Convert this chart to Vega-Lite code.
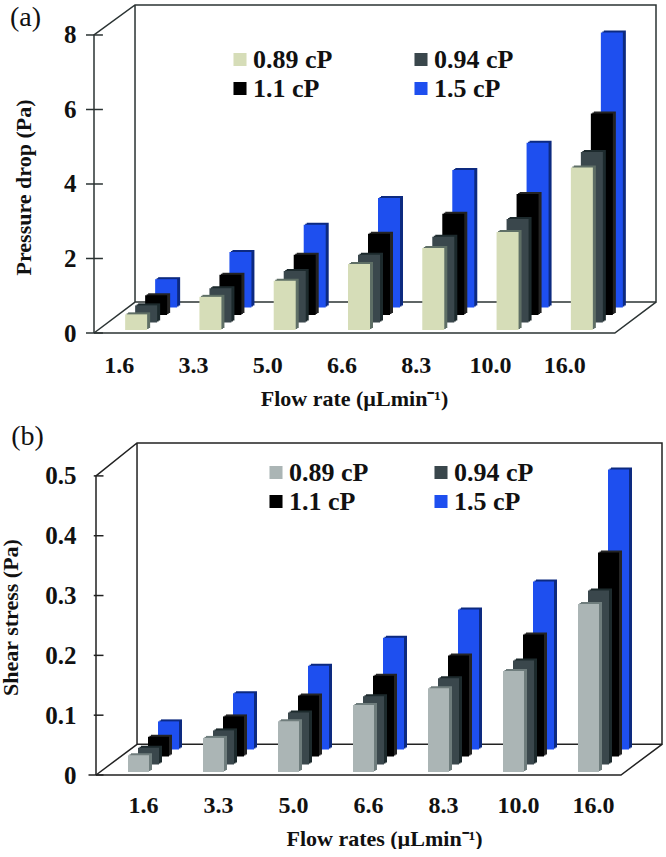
{"$schema":"https://vega.github.io/schema/vega-lite/v6.json","background":"white","padding":{"left":-1,"top":2,"right":0,"bottom":0},"spacing":14,"resolve":{"scale":{"color":"independent"},"legend":{"color":"independent"}},"config":{"view":{"stroke":null},"axis":{"labelFont":"Liberation Serif","titleFont":"Liberation Serif","labelFontWeight":"bold","titleFontWeight":"bold","labelColor":"#111","titleColor":"#111","grid":false,"domain":false,"ticks":false},"legend":{"labelFont":"Liberation Serif","labelFontWeight":"bold","labelFontSize":26,"labelColor":"#111","symbolType":"square","symbolSize":170,"symbolStrokeWidth":0,"symbolOpacity":1,"columns":2,"direction":"horizontal","rowPadding":3,"labelOffset":0,"title":null,"orient":"none"},"line":{"strokeWidth":1.5}},"datasets":{"pd":[{"rate":"1.6","s":"0.89 cP","v":0.42},{"rate":"3.3","s":"0.89 cP","v":0.89},{"rate":"5.0","s":"0.89 cP","v":1.32},{"rate":"6.6","s":"0.89 cP","v":1.77},{"rate":"8.3","s":"0.89 cP","v":2.2},{"rate":"10.0","s":"0.89 cP","v":2.63},{"rate":"16.0","s":"0.89 cP","v":4.36},{"rate":"1.6","s":"0.94 cP","v":0.46},{"rate":"3.3","s":"0.94 cP","v":0.92},{"rate":"5.0","s":"0.94 cP","v":1.38},{"rate":"6.6","s":"0.94 cP","v":1.82},{"rate":"8.3","s":"0.94 cP","v":2.3},{"rate":"10.0","s":"0.94 cP","v":2.78},{"rate":"16.0","s":"0.94 cP","v":4.58},{"rate":"1.6","s":"1.1 cP","v":0.53},{"rate":"3.3","s":"1.1 cP","v":1.08},{"rate":"5.0","s":"1.1 cP","v":1.62},{"rate":"6.6","s":"1.1 cP","v":2.18},{"rate":"8.3","s":"1.1 cP","v":2.72},{"rate":"10.0","s":"1.1 cP","v":3.25},{"rate":"16.0","s":"1.1 cP","v":5.41},{"rate":"1.6","s":"1.5 cP","v":0.76},{"rate":"3.3","s":"1.5 cP","v":1.49},{"rate":"5.0","s":"1.5 cP","v":2.22},{"rate":"6.6","s":"1.5 cP","v":2.94},{"rate":"8.3","s":"1.5 cP","v":3.69},{"rate":"10.0","s":"1.5 cP","v":4.42},{"rate":"16.0","s":"1.5 cP","v":7.38}],"ss":[{"rate":"1.6","s":"0.89 cP","v":0.028},{"rate":"3.3","s":"0.89 cP","v":0.057},{"rate":"5.0","s":"0.89 cP","v":0.085},{"rate":"6.6","s":"0.89 cP","v":0.112},{"rate":"8.3","s":"0.89 cP","v":0.14},{"rate":"10.0","s":"0.89 cP","v":0.169},{"rate":"16.0","s":"0.89 cP","v":0.281},{"rate":"1.6","s":"0.94 cP","v":0.028},{"rate":"3.3","s":"0.94 cP","v":0.057},{"rate":"5.0","s":"0.94 cP","v":0.087},{"rate":"6.6","s":"0.94 cP","v":0.114},{"rate":"8.3","s":"0.94 cP","v":0.144},{"rate":"10.0","s":"0.94 cP","v":0.174},{"rate":"16.0","s":"0.94 cP","v":0.291},{"rate":"1.6","s":"1.1 cP","v":0.033},{"rate":"3.3","s":"1.1 cP","v":0.067},{"rate":"5.0","s":"1.1 cP","v":0.102},{"rate":"6.6","s":"1.1 cP","v":0.135},{"rate":"8.3","s":"1.1 cP","v":0.169},{"rate":"10.0","s":"1.1 cP","v":0.204},{"rate":"16.0","s":"1.1 cP","v":0.341},{"rate":"1.6","s":"1.5 cP","v":0.047},{"rate":"3.3","s":"1.5 cP","v":0.094},{"rate":"5.0","s":"1.5 cP","v":0.14},{"rate":"6.6","s":"1.5 cP","v":0.187},{"rate":"8.3","s":"1.5 cP","v":0.234},{"rate":"10.0","s":"1.5 cP","v":0.281},{"rate":"16.0","s":"1.5 cP","v":0.468}]},"vconcat":[{"width":562,"height":328,"resolve":{"scale":{"x":"independent"}},"layer":[{"data":{"values":[{"seg":"l","x":0,"y":0,"o":1},{"seg":"l","x":0,"y":8,"o":2},{"seg":"l","x":0.552,"y":8.805,"o":3},{"seg":"l","x":7.564,"y":8.805,"o":4},{"seg":"l","x":7.564,"y":0.83,"o":5},{"seg":"l","x":0.552,"y":0.83,"o":6},{"seg":"l","x":0.552,"y":8.805,"o":7},{"seg":"d","x":0,"y":0,"o":1},{"seg":"d","x":0.552,"y":0.83,"o":2},{"seg":"t0","x":-0.108,"y":0,"o":1},{"seg":"t0","x":0.12,"y":0,"o":2},{"seg":"t2","x":-0.108,"y":2,"o":1},{"seg":"t2","x":0.12,"y":2,"o":2},{"seg":"t4","x":-0.108,"y":4,"o":1},{"seg":"t4","x":0.12,"y":4,"o":2},{"seg":"t6","x":-0.108,"y":6,"o":1},{"seg":"t6","x":0.12,"y":6,"o":2},{"seg":"t8","x":-0.108,"y":8,"o":1},{"seg":"t8","x":0.12,"y":8,"o":2},{"seg":"f","x":0,"y":0,"o":1},{"seg":"f","x":7.01,"y":0,"o":2},{"seg":"f","x":7.564,"y":0.83,"o":3}]},"mark":{"type":"line","color":"#2b3333","clip":false},"encoding":{"x":{"field":"x","type":"quantitative","axis":null,"scale":{"domain":[0,7.564],"range":[0,562],"nice":false,"zero":false}},"y":{"field":"y","type":"quantitative","scale":{"domain":[0,8.805],"nice":false},"axis":{"values":[0,2,4,6,8],"labelFontSize":25,"labelPadding":18,"title":"Pressure drop (Pa)","titleFontSize":22,"titleX":-59,"titleY":182}},"detail":{"field":"seg"},"order":{"field":"o"}}},{"data":{"values":[{"t":"(a)","x":-1.13,"y":8.45}]},"mark":{"type":"text","font":"Liberation Serif","fontSize":28,"align":"left","color":"#111"},"encoding":{"x":{"field":"x","type":"quantitative","axis":null,"scale":{"domain":[0,7.564],"range":[0,562],"nice":false,"zero":false}},"y":{"field":"y","type":"quantitative"},"text":{"field":"t"}}},{"data":{"name":"pd"},"encoding":{"x":{"field":"rate","type":"nominal","title":"Flow rate (µLmin⁻¹)","scale":{"domain":["1.6","3.3","5.0","6.6","8.3","10.0","16.0"],"range":[0,520],"paddingInner":0,"paddingOuter":0},"axis":{"labelAngle":0,"labelFontSize":24,"labelPadding":20,"labelOffset":-12,"titleFontSize":22,"titleX":260,"titleY":55}},"y":{"field":"v","type":"quantitative"}},"layer":[{"transform":[{"filter":"datum.s=='1.5 cP'"}],"mark":{"type":"bar","width":22,"color":"#0d2a80","xOffset":38,"yOffset":-27.5}},{"transform":[{"filter":"datum.s=='1.5 cP'"}],"mark":{"type":"bar","width":22,"color":"#0d2a80","xOffset":36.5,"yOffset":-26.5}},{"transform":[{"filter":"datum.s=='1.5 cP'"}],"mark":{"type":"bar","width":22,"xOffset":35,"yOffset":-25.5},"encoding":{"color":{"field":"s","type":"nominal","scale":{"domain":["0.89 cP","0.94 cP","1.1 cP","1.5 cP"],"range":["#d6ddb8","#3a474c","#000000","#1e4fef"]},"legend":{"legendX":133,"legendY":41.5,"columnPadding":75}}}},{"transform":[{"filter":"datum.s=='1.1 cP'"}],"mark":{"type":"bar","width":22,"color":"#242424","xOffset":28,"yOffset":-20}},{"transform":[{"filter":"datum.s=='1.1 cP'"}],"mark":{"type":"bar","width":22,"color":"#242424","xOffset":26.5,"yOffset":-19}},{"transform":[{"filter":"datum.s=='1.1 cP'"}],"mark":{"type":"bar","width":22,"color":"#000000","xOffset":25,"yOffset":-18}},{"transform":[{"filter":"datum.s=='0.94 cP'"}],"mark":{"type":"bar","width":22,"color":"#1d2a2d","xOffset":18,"yOffset":-12.5}},{"transform":[{"filter":"datum.s=='0.94 cP'"}],"mark":{"type":"bar","width":22,"color":"#1d2a2d","xOffset":16.5,"yOffset":-11.5}},{"transform":[{"filter":"datum.s=='0.94 cP'"}],"mark":{"type":"bar","width":22,"color":"#3a474c","xOffset":15,"yOffset":-10.5}},{"transform":[{"filter":"datum.s=='0.89 cP'"}],"mark":{"type":"bar","width":22,"color":"#5f6f66","xOffset":8,"yOffset":-5}},{"transform":[{"filter":"datum.s=='0.89 cP'"}],"mark":{"type":"bar","width":22,"color":"#5f6f66","xOffset":6.5,"yOffset":-4}},{"transform":[{"filter":"datum.s=='0.89 cP'"}],"mark":{"type":"bar","width":22,"color":"#d6ddb8","xOffset":5,"yOffset":-3}}]}]},{"width":568,"height":332,"resolve":{"scale":{"x":"independent"}},"layer":[{"data":{"values":[{"seg":"l","x":0,"y":0,"o":1},{"seg":"l","x":0,"y":0.5,"o":2},{"seg":"l","x":0.547,"y":0.555,"o":3},{"seg":"l","x":7.547,"y":0.555,"o":4},{"seg":"l","x":7.547,"y":0.0513,"o":5},{"seg":"l","x":0.547,"y":0.0513,"o":6},{"seg":"l","x":0.547,"y":0.555,"o":7},{"seg":"d","x":0,"y":0,"o":1},{"seg":"d","x":0.547,"y":0.0513,"o":2},{"seg":"t0","x":-0.1,"y":0,"o":1},{"seg":"t0","x":0.1,"y":0,"o":2},{"seg":"t1","x":-0.03,"y":0.1,"o":1},{"seg":"t1","x":0.1,"y":0.1,"o":2},{"seg":"t2","x":-0.03,"y":0.2,"o":1},{"seg":"t2","x":0.1,"y":0.2,"o":2},{"seg":"t3","x":-0.03,"y":0.3,"o":1},{"seg":"t3","x":0.1,"y":0.3,"o":2},{"seg":"t4","x":-0.03,"y":0.4,"o":1},{"seg":"t4","x":0.1,"y":0.4,"o":2},{"seg":"t5","x":-0.03,"y":0.5,"o":1},{"seg":"t5","x":0.1,"y":0.5,"o":2},{"seg":"f","x":0,"y":0,"o":1},{"seg":"f","x":7,"y":0,"o":2},{"seg":"f","x":7.547,"y":0.0513,"o":3}]},"mark":{"type":"line","color":"#222"},"encoding":{"x":{"field":"x","type":"quantitative","axis":null,"scale":{"domain":[-0.0267,7.547],"range":[0,568],"nice":false,"zero":false}},"y":{"field":"y","type":"quantitative","scale":{"domain":[0,0.555],"nice":false},"axis":{"values":[0,0.1,0.2,0.3,0.4,0.5],"labelExpr":"datum.value==0?'0':format(datum.value,'.1f')","labelFontSize":25,"labelPadding":18,"title":"Shear stress (Pa)","titleFontSize":22,"titleX":-72,"titleY":174}},"detail":{"field":"seg"},"order":{"field":"o"}}},{"data":{"values":[{"t":"(b)","x":-1.13,"y":0.565}]},"mark":{"type":"text","font":"Liberation Serif","fontSize":28,"align":"left","color":"#111"},"encoding":{"x":{"field":"x","type":"quantitative","axis":null,"scale":{"domain":[-0.0267,7.547],"range":[0,568],"nice":false,"zero":false}},"y":{"field":"y","type":"quantitative"},"text":{"field":"t"}}},{"data":{"name":"ss"},"encoding":{"x":{"field":"rate","type":"nominal","title":"Flow rates (µLmin⁻¹)","scale":{"domain":["1.6","3.3","5.0","6.6","8.3","10.0","16.0"],"range":[3,528],"paddingInner":0,"paddingOuter":0},"axis":{"labelAngle":0,"labelFontSize":24,"labelPadding":18,"labelOffset":9,"titleFontSize":22,"titleX":290,"titleY":53}},"y":{"field":"v","type":"quantitative"}},"layer":[{"transform":[{"filter":"datum.s=='1.5 cP'"}],"mark":{"type":"bar","width":21,"color":"#0d2a80","xOffset":37,"yOffset":-27.5}},{"transform":[{"filter":"datum.s=='1.5 cP'"}],"mark":{"type":"bar","width":21,"color":"#0d2a80","xOffset":35.5,"yOffset":-26.5}},{"transform":[{"filter":"datum.s=='1.5 cP'"}],"mark":{"type":"bar","width":21,"xOffset":34,"yOffset":-25.5},"encoding":{"color":{"field":"s","type":"nominal","scale":{"domain":["0.89 cP","0.94 cP","1.1 cP","1.5 cP"],"range":["#abb5b5","#3a474c","#000000","#1e4fef"]},"legend":{"legendX":169,"legendY":16.5,"columnPadding":59}}}},{"transform":[{"filter":"datum.s=='1.1 cP'"}],"mark":{"type":"bar","width":21,"color":"#242424","xOffset":27,"yOffset":-20.5}},{"transform":[{"filter":"datum.s=='1.1 cP'"}],"mark":{"type":"bar","width":21,"color":"#242424","xOffset":25.5,"yOffset":-19.5}},{"transform":[{"filter":"datum.s=='1.1 cP'"}],"mark":{"type":"bar","width":21,"color":"#000000","xOffset":24,"yOffset":-18.5}},{"transform":[{"filter":"datum.s=='0.94 cP'"}],"mark":{"type":"bar","width":21,"color":"#1d2a2d","xOffset":17,"yOffset":-12.5}},{"transform":[{"filter":"datum.s=='0.94 cP'"}],"mark":{"type":"bar","width":21,"color":"#1d2a2d","xOffset":15.5,"yOffset":-11.5}},{"transform":[{"filter":"datum.s=='0.94 cP'"}],"mark":{"type":"bar","width":21,"color":"#3a474c","xOffset":14,"yOffset":-10.5}},{"transform":[{"filter":"datum.s=='0.89 cP'"}],"mark":{"type":"bar","width":21,"color":"#6f7d7d","xOffset":7,"yOffset":-5}},{"transform":[{"filter":"datum.s=='0.89 cP'"}],"mark":{"type":"bar","width":21,"color":"#6f7d7d","xOffset":5.5,"yOffset":-4}},{"transform":[{"filter":"datum.s=='0.89 cP'"}],"mark":{"type":"bar","width":21,"color":"#abb5b5","xOffset":4,"yOffset":-3}}]}]}]}
